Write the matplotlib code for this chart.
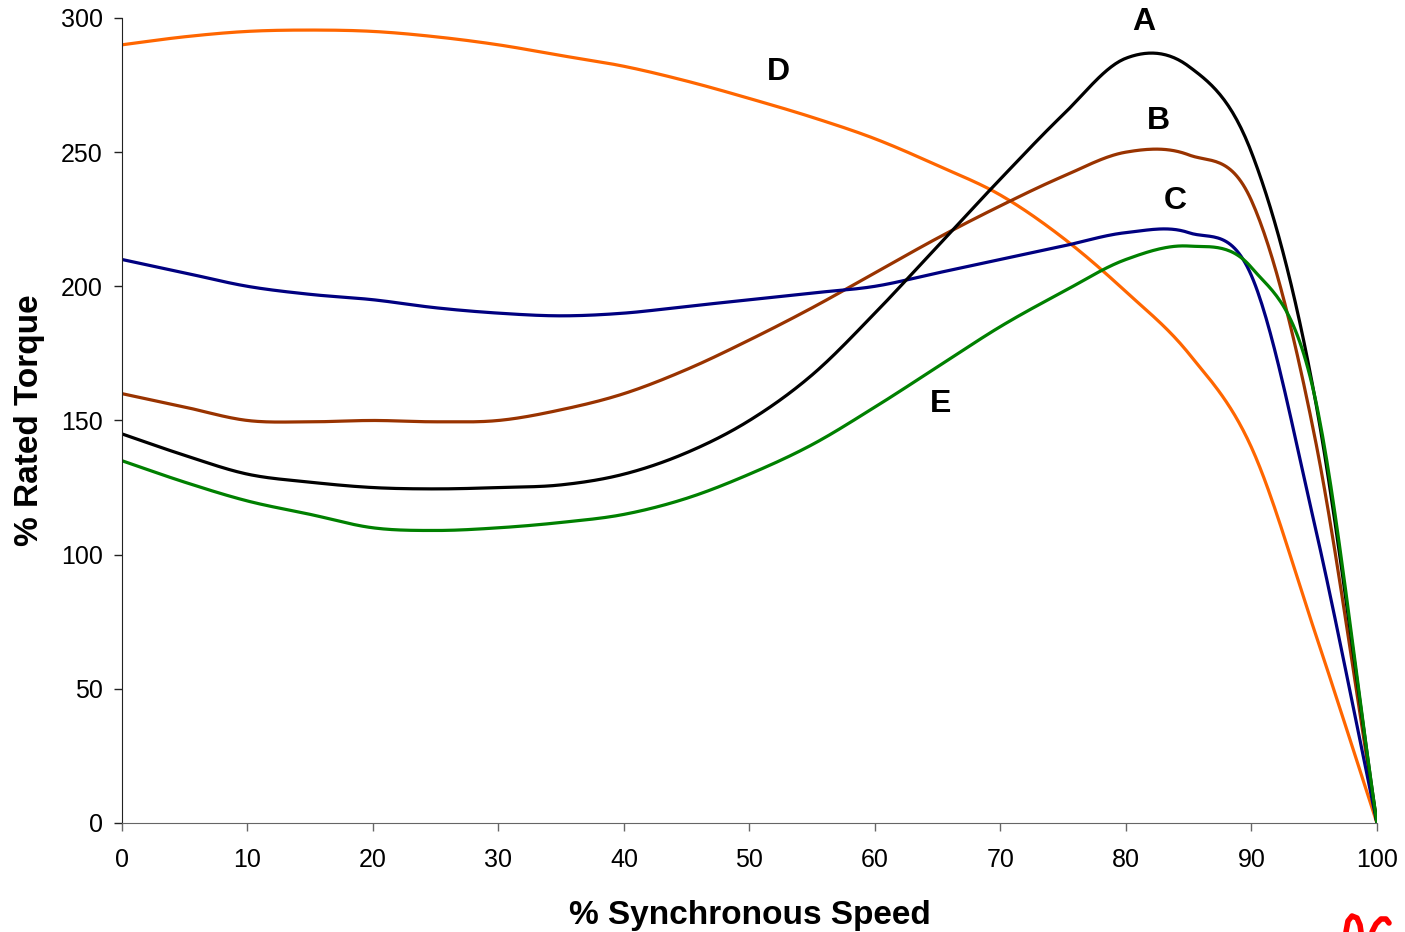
import numpy as np
import matplotlib
matplotlib.use('Agg')
import matplotlib.pyplot as plt
from matplotlib.lines import Line2D

plt.rcParams['font.family'] = ['Liberation Sans', 'DejaVu Sans']

# % synchronous speed
speed = [0, 5, 10, 15, 20, 25, 30, 35, 40, 45, 50, 55, 60, 65, 70, 75, 80, 85, 90, 95, 100]

# % rated torque for each design curve
torque_a = [145, 137, 130, 127, 125, 124.5, 125, 126, 130, 138, 150, 167, 190, 215, 240, 264, 285, 282, 250, 160, 0]
torque_b = [160, 155, 150, 149.5, 150, 149.5, 150, 154, 160, 169, 180, 192, 205, 218, 230, 241, 250, 249, 232, 145, 0]
torque_c = [210, 205, 200, 197, 195, 192, 190, 189, 190, 192.5, 195, 197.5, 200, 205, 210, 215, 220, 220, 204, 112, 0]
torque_d = [290, 293, 295, 295.5, 295, 293, 290, 286, 282, 276.5, 270, 263, 255, 245, 234, 218, 198, 175, 140, 72, 0]
torque_e = [135, 127, 120, 115, 110, 109, 110, 112, 115, 121, 130, 141, 155, 170, 185, 198, 210, 215, 207, 160, 0]

names = ['A', 'B', 'C', 'D', 'E']
label_x = [81.4, 82.6, 83.9, 52.3, 65.2]
label_y = [298.5, 261.6, 231.8, 279.9, 156.2]


def smooth(x, y, n=30):
    # catmull-rom style smoothing, like a spreadsheet "smoothed line"
    x = np.asarray(x, float)
    y = np.asarray(y, float)
    m = np.zeros_like(y)
    m[1:-1] = (y[2:] - y[:-2]) / (x[2:] - x[:-2])
    m[0] = (y[1] - y[0]) / (x[1] - x[0])
    m[-1] = (y[-1] - y[-2]) / (x[-1] - x[-2])
    xs, ys = [], []
    for i in range(len(x) - 1):
        h = x[i + 1] - x[i]
        t = np.linspace(0, 1, n, endpoint=False)
        h00 = 2 * t**3 - 3 * t**2 + 1
        h10 = t**3 - 2 * t**2 + t
        h01 = -2 * t**3 + 3 * t**2
        h11 = t**3 - t**2
        xs.append(x[i] + t * h)
        ys.append(h00 * y[i] + h10 * h * m[i] + h01 * y[i + 1] + h11 * h * m[i + 1])
    xs.append([x[-1]])
    ys.append([y[-1]])
    return np.concatenate(xs), np.concatenate(ys)


fig = plt.figure(figsize=(14.05, 9.32), dpi=100)
ax = fig.add_axes([0.0868, 0.117, 0.8932, 0.8637])

for series, c in zip([torque_d, torque_b, torque_c, torque_a, torque_e],
                     ['#FF6600', '#993300', '#000080', '#000000', '#008000']):
    sx, sy = smooth(speed, series)
    ax.plot(sx, sy, color=c, linewidth=2.3, solid_capstyle='round')

ax.set_xlim(0, 100)
ax.set_ylim(0, 300)
ax.set_xticks(range(0, 101, 10))
ax.set_yticks(range(0, 301, 50))
ax.tick_params(axis='both', direction='out', length=6, width=1, labelsize=18)
ax.tick_params(axis='x', pad=12, colors='#666666', labelcolor='black')
ax.tick_params(axis='y', pad=8, colors='#222222', labelcolor='black')
ax.spines['top'].set_visible(False)
ax.spines['right'].set_visible(False)
ax.spines['bottom'].set_color('#666666')
ax.spines['left'].set_color('#222222')

ax.set_xlabel('% Synchronous Speed', fontsize=24, fontweight='bold', labelpad=20)
ax.set_ylabel('% Rated Torque', fontsize=24, fontweight='bold', labelpad=11)

for n, lx, ly in zip(names, label_x, label_y):
    ax.text(lx, ly, n, fontsize=23, fontweight='bold', ha='center', va='center')

# red squiggle cut off at the bottom right corner
W, H = 1405.0, 932.0
for px, py in [([1346, 1348, 1352, 1357, 1360, 1361], [932, 921, 916, 918, 925, 932]),
               ([1372, 1376, 1381, 1386, 1389], [932, 924, 919, 919, 923])]:
    fig.add_artist(Line2D(np.array(px) / W, 1 - np.array(py) / H, color='red',
                          linewidth=4, solid_capstyle='round'))

plt.savefig('out.png', dpi=100)
